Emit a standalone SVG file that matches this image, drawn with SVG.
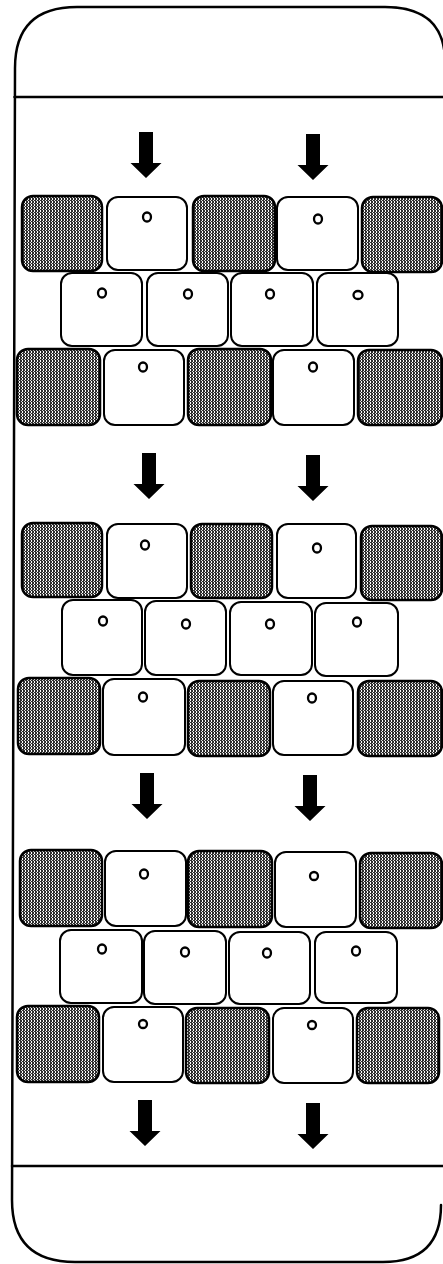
<svg xmlns="http://www.w3.org/2000/svg" width="443" height="1264" viewBox="0 0 443 1264" xmlns:xlink="http://www.w3.org/1999/xlink">
<style>
.frame{fill:none;stroke:#000;stroke-width:2.5;stroke-linecap:round;stroke-linejoin:round}
.dk{fill:url(#stip);stroke:#000;stroke-width:2.5}
.wt{fill:#fff;stroke:#000;stroke-width:2}
.dot{fill:none;stroke:#000;stroke-width:2.3}
.arr{fill:#000}
</style>
<defs>
<pattern id="stip" width="3" height="3" patternUnits="userSpaceOnUse">
<rect width="3" height="3" fill="#2e2e2e"/>
<rect x="1" y="0" width="1" height="2" fill="#ffffff"/>
<rect x="0" y="2" width="1" height="1" fill="#dddddd"/>
</pattern>
<path id="arrow" d="M-7 0 H7 V31 H15.5 L0 46 L-15.5 31 H-7 Z"/>
</defs>
<rect width="443" height="1264" fill="#fff"/>
<g id="frame">
<path class="frame" d="M15 68 Q15 7 77 7 L385 7 Q445 7 445 62 M441 1205 Q441 1262 383 1262 L75 1262 Q12 1262 12 1200 L15 68"/>
<line class="frame" x1="14.5" y1="97" x2="443" y2="97"/>
<line class="frame" x1="12" y1="1166" x2="443" y2="1166"/>
</g>
<g id="section1">
<g id="s1r1">
<g id="s1r1t1"><rect class="dk" x="22" y="196" width="80" height="75" rx="11"/></g>
<g id="s1r1t2"><rect class="wt" x="107" y="197" width="80" height="73" rx="11"/><ellipse class="dot" cx="147" cy="217" rx="4" ry="4.5"/></g>
<g id="s1r1t3"><rect class="dk" x="193" y="196" width="82" height="75" rx="11"/></g>
<g id="s1r1t4"><rect class="wt" x="277" y="197" width="81" height="73" rx="11"/><ellipse class="dot" cx="318" cy="219" rx="4" ry="4.5"/></g>
<g id="s1r1t5"><rect class="dk" x="362" y="197" width="80" height="75" rx="11"/></g>
</g>
<g id="s1r2">
<g id="s1r2t1"><rect class="wt" x="61" y="273" width="81" height="73" rx="11"/><ellipse class="dot" cx="102" cy="293" rx="4" ry="4.5"/></g>
<g id="s1r2t2"><rect class="wt" x="147" y="273" width="81" height="73" rx="11"/><ellipse class="dot" cx="188" cy="294" rx="4" ry="4.5"/></g>
<g id="s1r2t3"><rect class="wt" x="231" y="273" width="82" height="73" rx="11"/><ellipse class="dot" cx="270" cy="294" rx="4" ry="4.5"/></g>
<g id="s1r2t4"><rect class="wt" x="317" y="273" width="81" height="73" rx="11"/><ellipse class="dot" cx="358" cy="295" rx="4.5" ry="4"/></g>
</g>
<g id="s1r3">
<g id="s1r3t1"><rect class="dk" x="17" y="349" width="83" height="76" rx="11"/></g>
<g id="s1r3t2"><rect class="wt" x="104" y="350" width="80" height="75" rx="11"/><ellipse class="dot" cx="143" cy="367" rx="4" ry="4.5"/></g>
<g id="s1r3t3"><rect class="dk" x="188" y="349" width="83" height="76" rx="11"/></g>
<g id="s1r3t4"><rect class="wt" x="273" y="350" width="81" height="75" rx="11"/><ellipse class="dot" cx="313" cy="367" rx="4" ry="4.5"/></g>
<g id="s1r3t5"><rect class="dk" x="358" y="350" width="84" height="75" rx="11"/></g>
</g>
</g>
<g id="section2">
<g id="s2r1">
<g id="s2r1t1"><rect class="dk" x="22" y="523" width="80" height="74" rx="11"/></g>
<g id="s2r1t2"><rect class="wt" x="107" y="524" width="80" height="74" rx="11"/><ellipse class="dot" cx="145" cy="545" rx="4" ry="4.5"/></g>
<g id="s2r1t3"><rect class="dk" x="191" y="524" width="81" height="74" rx="11"/></g>
<g id="s2r1t4"><rect class="wt" x="277" y="524" width="79" height="74" rx="11"/><ellipse class="dot" cx="317" cy="548" rx="4" ry="4.5"/></g>
<g id="s2r1t5"><rect class="dk" x="361" y="526" width="81" height="74" rx="11"/></g>
</g>
<g id="s2r2">
<g id="s2r2t1"><rect class="wt" x="62" y="600" width="80" height="75" rx="11"/><ellipse class="dot" cx="103" cy="621" rx="4" ry="4.5"/></g>
<g id="s2r2t2"><rect class="wt" x="145" y="601" width="81" height="74" rx="11"/><ellipse class="dot" cx="186" cy="624" rx="4" ry="4.5"/></g>
<g id="s2r2t3"><rect class="wt" x="230" y="602" width="82" height="73" rx="11"/><ellipse class="dot" cx="270" cy="624" rx="4" ry="4.5"/></g>
<g id="s2r2t4"><rect class="wt" x="315" y="603" width="83" height="73" rx="11"/><ellipse class="dot" cx="357" cy="622" rx="4" ry="4.5"/></g>
</g>
<g id="s2r3">
<g id="s2r3t1"><rect class="dk" x="18" y="678" width="82" height="76" rx="11"/></g>
<g id="s2r3t2"><rect class="wt" x="103" y="679" width="82" height="76" rx="11"/><ellipse class="dot" cx="143" cy="697" rx="4" ry="4.5"/></g>
<g id="s2r3t3"><rect class="dk" x="188" y="681" width="82" height="75" rx="11"/></g>
<g id="s2r3t4"><rect class="wt" x="273" y="681" width="80" height="74" rx="11"/><ellipse class="dot" cx="312" cy="698" rx="4" ry="4.5"/></g>
<g id="s2r3t5"><rect class="dk" x="358" y="681" width="84" height="75" rx="11"/></g>
</g>
</g>
<g id="section3">
<g id="s3r1">
<g id="s3r1t1"><rect class="dk" x="20" y="850" width="82" height="76" rx="11"/></g>
<g id="s3r1t2"><rect class="wt" x="105" y="851" width="81" height="75" rx="11"/><ellipse class="dot" cx="144" cy="874" rx="4" ry="4.5"/></g>
<g id="s3r1t3"><rect class="dk" x="188" y="851" width="84" height="76" rx="11"/></g>
<g id="s3r1t4"><rect class="wt" x="275" y="852" width="81" height="75" rx="11"/><ellipse class="dot" cx="314" cy="876" rx="4" ry="4"/></g>
<g id="s3r1t5"><rect class="dk" x="360" y="853" width="82" height="75" rx="11"/></g>
</g>
<g id="s3r2">
<g id="s3r2t1"><rect class="wt" x="60" y="930" width="82" height="73" rx="11"/><ellipse class="dot" cx="102" cy="949" rx="4" ry="4.5"/></g>
<g id="s3r2t2"><rect class="wt" x="144" y="931" width="82" height="73" rx="11"/><ellipse class="dot" cx="185" cy="952" rx="4" ry="4.5"/></g>
<g id="s3r2t3"><rect class="wt" x="229" y="932" width="81" height="72" rx="11"/><ellipse class="dot" cx="267" cy="953" rx="4" ry="4.5"/></g>
<g id="s3r2t4"><rect class="wt" x="315" y="932" width="82" height="71" rx="11"/><ellipse class="dot" cx="356" cy="951" rx="4" ry="4.5"/></g>
</g>
<g id="s3r3">
<g id="s3r3t1"><rect class="dk" x="17" y="1006" width="82" height="76" rx="11"/></g>
<g id="s3r3t2"><rect class="wt" x="103" y="1007" width="80" height="75" rx="11"/><ellipse class="dot" cx="143" cy="1024" rx="4" ry="4"/></g>
<g id="s3r3t3"><rect class="dk" x="186" y="1008" width="83" height="75" rx="11"/></g>
<g id="s3r3t4"><rect class="wt" x="273" y="1008" width="80" height="75" rx="11"/><ellipse class="dot" cx="312" cy="1025" rx="4" ry="4"/></g>
<g id="s3r3t5"><rect class="dk" x="357" y="1008" width="82" height="75" rx="11"/></g>
</g>
</g>
<g id="connectors">
<use href="#arrow" xlink:href="#arrow" class="arr" transform="translate(146 132)"/>
<use href="#arrow" xlink:href="#arrow" class="arr" transform="translate(313 134)"/>
<use href="#arrow" xlink:href="#arrow" class="arr" transform="translate(149 453)"/>
<use href="#arrow" xlink:href="#arrow" class="arr" transform="translate(313 455)"/>
<use href="#arrow" xlink:href="#arrow" class="arr" transform="translate(147 773)"/>
<use href="#arrow" xlink:href="#arrow" class="arr" transform="translate(310 775)"/>
<use href="#arrow" xlink:href="#arrow" class="arr" transform="translate(145 1100)"/>
<use href="#arrow" xlink:href="#arrow" class="arr" transform="translate(313 1103)"/>
</g>
</svg>
